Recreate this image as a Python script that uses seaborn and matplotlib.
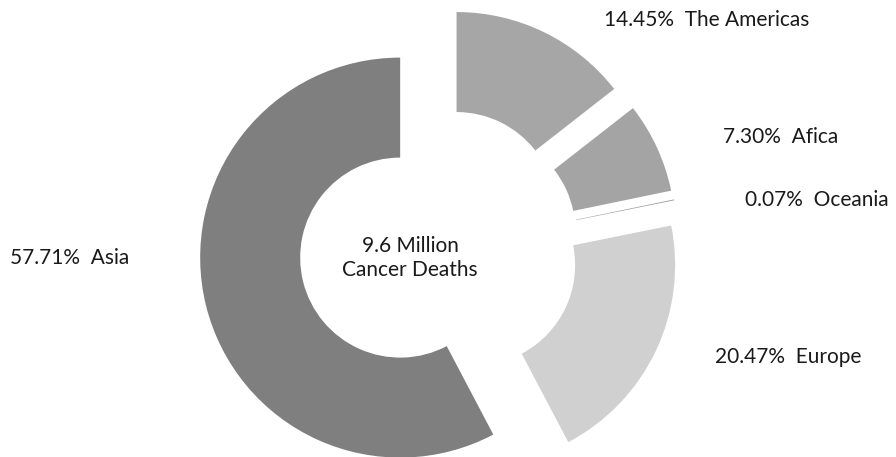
import matplotlib
matplotlib.use("Agg")
import matplotlib.pyplot as plt
import seaborn as sns

regions = ["The Americas", "Afica", "Oceania", "Europe", "Asia"]
shares = [14.45, 7.30, 0.07, 20.47, 57.71]
center_lines = ["9.6 Million", "Cancer Deaths"]

colors = ["#a6a6a6", "#a4a4a4", "#9a9a9a", "#d0d0d0", "#7f7f7f"]
# label anchor (left edge, middle) in data units, pie radius = 1
label_pos = [(0.825, 1.14), (1.42, 0.555), (1.53, 0.24), (1.38, -0.545), (-2.145, -0.05)]

sns.set_theme(style="white")
plt.rcParams["font.family"] = ["Lato", "DejaVu Sans"]

fig = plt.figure(figsize=(8.96, 4.57), dpi=100)
ax = fig.add_axes([0, 0, 1, 1])

ax.pie(
    shares,
    colors=colors,
    startangle=90,
    counterclock=False,
    explode=[0.2] * len(shares),
    radius=1.0,
    wedgeprops=dict(width=0.5, linewidth=0),
)

for name, val, (x, y) in zip(regions, shares, label_pos):
    ax.text(x, y, f"{val:.2f}%  {name}", ha="left", va="center",
            fontsize=15, color="#1a1a1a")

ax.text(-0.145, -0.05, "\n".join(center_lines), ha="center", va="center",
        fontsize=15, color="#1a1a1a", linespacing=1.3)

ax.set_xlim(-439 / 200, (896 - 439) / 200)
ax.set_ylim(-(457 - 248) / 200, 248 / 200)
ax.set_aspect("auto")
ax.axis("off")

fig.savefig("out.png", dpi=100, facecolor="white")
